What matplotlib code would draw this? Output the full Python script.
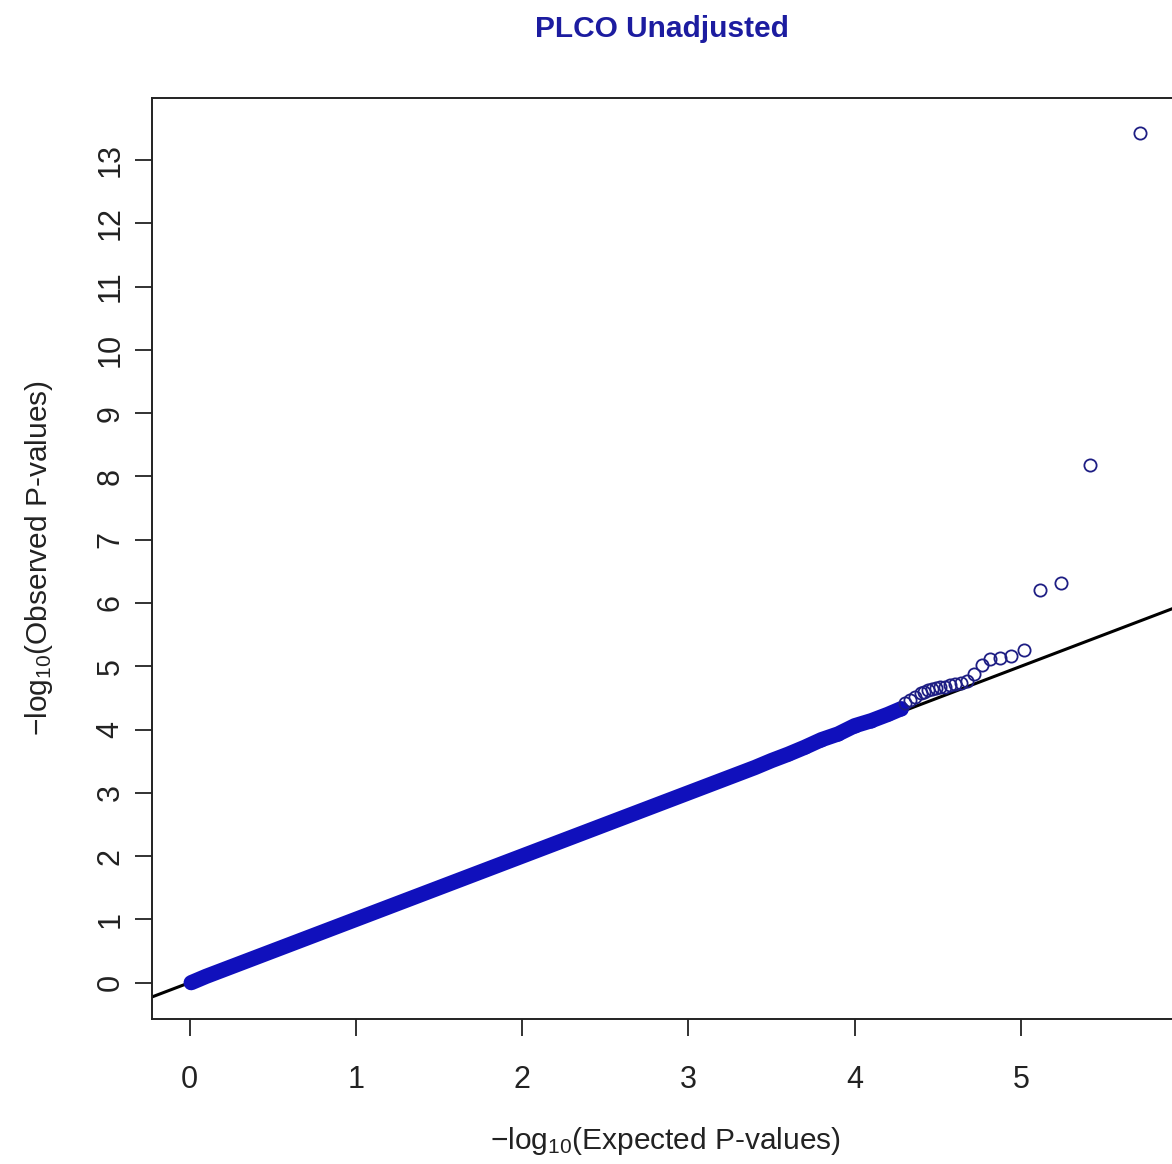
import matplotlib
matplotlib.use("Agg")
import matplotlib.pyplot as plt

plt.rcParams['font.family'] = ['Liberation Sans', 'DejaVu Sans']
plt.rcParams['mathtext.fontset'] = 'custom'
plt.rcParams['mathtext.rm'] = 'Liberation Sans'
plt.rcParams['mathtext.it'] = 'Liberation Sans:italic'

# Dense bulk of the QQ plot (expected vs observed -log10 p)
bulk_expected = [0.01, 0.1, 0.2, 0.3, 0.4, 0.5, 0.6, 0.7, 0.8, 0.9, 1.0, 1.1, 1.2, 1.3,
                 1.4, 1.5, 1.6, 1.7, 1.8, 1.9, 2.0, 2.1, 2.2, 2.3, 2.4, 2.5, 2.6, 2.7,
                 2.8, 2.9, 3.0, 3.1, 3.2, 3.3, 3.4, 3.5, 3.6, 3.7, 3.8, 3.9, 4.0, 4.1,
                 4.2, 4.28]
bulk_observed = [0.0, 0.1, 0.2, 0.3, 0.4, 0.5, 0.6, 0.7, 0.8, 0.9, 1.0, 1.1, 1.2, 1.3,
                 1.4, 1.5, 1.6, 1.7, 1.8, 1.9, 2.0, 2.1, 2.2, 2.3, 2.4, 2.5, 2.6, 2.7,
                 2.8, 2.9, 3.0, 3.1, 3.2, 3.3, 3.4, 3.51, 3.61, 3.72, 3.84, 3.93, 4.06, 4.14,
                 4.24, 4.33]

# Sparse upper tail (individual circles)
tail_expected = [4.30, 4.33, 4.36, 4.40, 4.418, 4.44, 4.464, 4.489, 4.515, 4.543, 4.573,
                 4.605, 4.64, 4.677, 4.718, 4.764, 4.815, 4.874, 4.94, 5.02,
                 5.117, 5.24, 5.417, 5.718]
tail_observed = [4.42, 4.47, 4.52, 4.57, 4.60, 4.62, 4.64, 4.66, 4.67, 4.68, 4.70,
                 4.72, 4.73, 4.77, 4.87, 5.02, 5.11, 5.13, 5.16, 5.25,
                 6.21, 6.31, 8.18, 13.42]

x_ticks = [0, 1, 2, 3, 4, 5]
y_ticks = [0, 1, 2, 3, 4, 5, 6, 7, 8, 9, 10, 11, 12, 13]

title = "PLCO Unadjusted"
point_color = "#1010bc"
tail_color = "#1e1e84"
title_color = "#1c1ca0"

W, H = 1172, 1164
fig = plt.figure(figsize=(W / 100, H / 100), dpi=100)
left, right, bottom, top = 152, 1178, 1019, 98
ax = fig.add_axes([left / W, 1 - bottom / H, (right - left) / W, (bottom - top) / H])

ax.set_xlim(-0.2255, 5.944)
ax.set_ylim(-0.574, 13.98)

# reference line y = x (under the points)
ax.axline((0, 0), slope=1, color="black", lw=2.2, zorder=1)

# dense band
ax.plot(bulk_expected, bulk_observed, color=point_color, lw=11,
        solid_capstyle="round", solid_joinstyle="round", zorder=2)
ax.plot(bulk_expected[-8:], bulk_observed[-8:], linestyle="none", marker="o",
        markersize=8.8, markerfacecolor="none", markeredgecolor=point_color,
        markeredgewidth=1.3, zorder=3)
ax.plot(tail_expected, tail_observed, linestyle="none", marker="o",
        markersize=8.8, markerfacecolor="none", markeredgecolor=tail_color,
        markeredgewidth=1.3, zorder=4)

ax.set_xticks(x_ticks)
ax.set_yticks(y_ticks)
ax.tick_params(axis="both", direction="out", length=12, width=1.3, color="#222222",
               labelsize=22, labelcolor="#222222")
ax.tick_params(axis="x", pad=21)
ax.tick_params(axis="y", pad=7)
for lab in ax.get_yticklabels():
    lab.set_rotation(90)
    lab.set_va("center")

for s in ax.spines.values():
    s.set_linewidth(1.4)
    s.set_color("#222222")

ax.set_xlabel(r"$-\mathrm{log}_{10}$(Expected P-values)", fontsize=21.5, color="#222222",
              labelpad=22)
ax.set_ylabel(r"$-\mathrm{log}_{10}$(Observed P-values)", fontsize=21.5, color="#222222",
              labelpad=29)

fig.text((left + 1172) / 2 / W, 1 - 29 / H, title, ha="center", va="center",
         fontsize=21.5, fontweight="bold", color=title_color)

fig.savefig("out.png", dpi=100)
